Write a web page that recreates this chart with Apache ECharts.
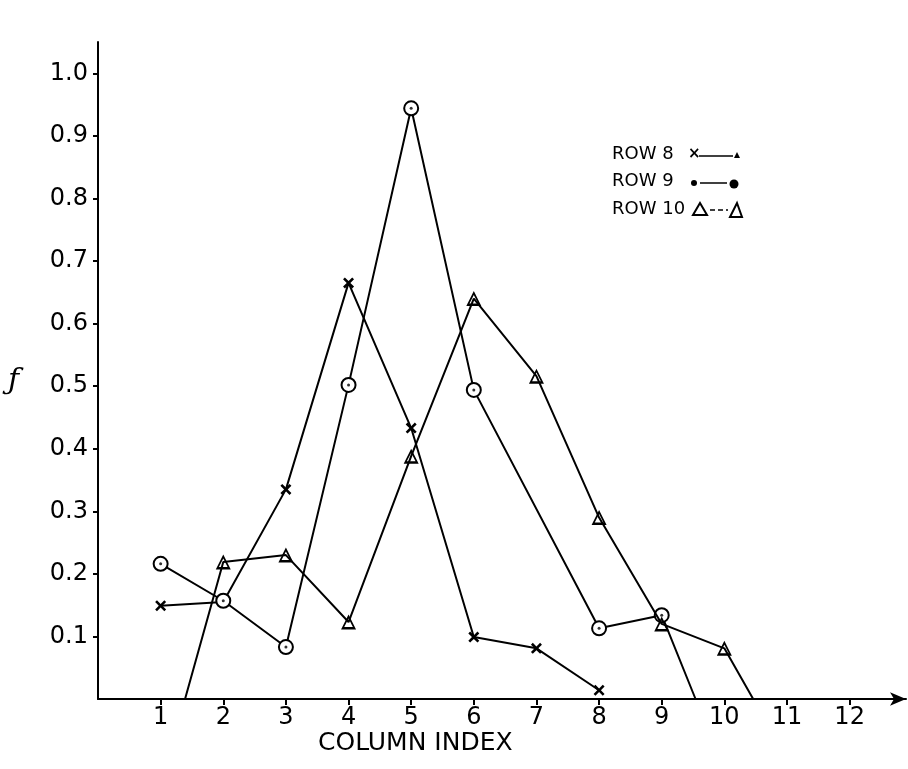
<!DOCTYPE html>
<html>
<head>
<meta charset="utf-8">
<script src="https://cdn.jsdelivr.net/npm/echarts@6/dist/echarts.min.js"></script>
<style>
html,body{margin:0;padding:0;background:#fff;}
#chart{width:908px;height:769px;}
</style>
</head>
<body>
<div id="chart"></div>
<script>
// ---- data ----
const xTicks = [1,2,3,4,5,6,7,8,9,10,11,12];
const yTicks = [0.1,0.2,0.3,0.4,0.5,0.6,0.7,0.8,0.9,1.0];

const row8X = [1, 2, 3, 4, 5, 6, 7, 8];
const row8Y = [0.149, 0.155, 0.335, 0.665, 0.433, 0.099, 0.081, 0.014];

const row9X = [1, 2, 3, 4, 5, 6, 8, 9, 9.54];
const row9Y = [0.216, 0.157, 0.083, 0.502, 0.944, 0.494, 0.113, 0.134, 0];

const row10X = [1.39, 2, 3, 4, 5, 6, 7, 8, 9, 10, 10.46];
const row10Y = [0, 0.219, 0.23, 0.123, 0.388, 0.64, 0.516, 0.29, 0.12, 0.081, 0];

const legendNames = ['ROW 8', 'ROW 9', 'ROW 10'];
const xAxisTitle = 'COLUMN INDEX';
const yAxisTitle = 'ƒ';

// ---- build ----
const pairs = (xs, ys) => xs.map((x, i) => [x, ys[i]]);
const X_SYM = 'path://M-6,-4 L-4,-6 L0,-2 L4,-6 L6,-4 L2,0 L6,4 L4,6 L0,2 L-4,6 L-6,4 L-2,0 Z';
const TRI_SYM = 'path://M0,-10 L9,7 L-9,7 Z M0,-5.5 L-5.2,4.2 L5.2,4.2 Z';

const chart = echarts.init(document.getElementById('chart'), null, {renderer: 'canvas'});
const font = 'DejaVu Sans';
const lineStyle = {color: '#000', width: 2};

const symNoZero = (sym) => (v) => (v[1] === 0 ? 'none' : sym);

chart.setOption({
  backgroundColor: '#fff',
  animation: false,
  grid: {left: 98, right: 2, top: 42, bottom: 70, containLabel: false},
  xAxis: {
    type: 'value', min: 0, max: 12.9, interval: 1,
    axisLine: {show: true, onZero: false, lineStyle: {color: '#000', width: 2},
      symbol: ['none', 'arrow'], symbolSize: [10, 16]},
    axisTick: {show: true, length: 6, lineStyle: {color: '#000', width: 2}, customValues: xTicks},
    axisLabel: {color: '#000', fontFamily: font, fontSize: 24, margin: 7, customValues: xTicks,
      formatter: v => String(v)},
    splitLine: {show: false}
  },
  yAxis: {
    type: 'value', min: 0, max: 1.05, interval: 0.1,
    axisLine: {show: true, onZero: false, lineStyle: {color: '#000', width: 2}},
    axisTick: {show: true, length: 5, lineStyle: {color: '#000', width: 2}, customValues: yTicks},
    axisLabel: {color: '#000', fontFamily: font, fontSize: 24, margin: 10, customValues: yTicks,
      formatter: v => v.toFixed(1)},
    splitLine: {show: false}
  },
  series: [
    {
      name: legendNames[0], type: 'line', data: pairs(row8X, row8Y),
      lineStyle: lineStyle, itemStyle: {color: '#000'},
      symbol: (v, p) => (p.dataIndex === 1 ? 'none' : X_SYM), symbolSize: 11,
      z: 3
    },
    {
      name: legendNames[1], type: 'line', data: pairs(row9X, row9Y),
      lineStyle: lineStyle,
      itemStyle: {color: '#fff', borderColor: '#000', borderWidth: 2},
      symbol: symNoZero('circle'), symbolSize: 14,
      z: 4
    },
    {
      name: legendNames[1] + ' dot', type: 'scatter', data: pairs(row9X, row9Y).filter(d => d[1] !== 0),
      itemStyle: {color: '#000'}, symbol: 'circle', symbolSize: 3, z: 6
    },
    {
      name: legendNames[2], type: 'line', data: pairs(row10X, row10Y),
      lineStyle: lineStyle, itemStyle: {color: '#000'},
      symbol: symNoZero(TRI_SYM), symbolSize: 15,
      z: 5
    }
  ],
  graphic: [
    {type: 'text', left: 318, top: 731, style: {text: xAxisTitle, font: '25px "DejaVu Sans"', fill: '#000'}},
    {type: 'text', left: 8, top: 366, style: {text: yAxisTitle, font: 'italic 30px "DejaVu Serif"', fill: '#000'}},
    // legend
    {type: 'text', left: 612, top: 145, style: {text: legendNames[0], font: '18px "DejaVu Sans"', fill: '#000'}},
    {type: 'text', left: 612, top: 172, style: {text: legendNames[1], font: '18px "DejaVu Sans"', fill: '#000'}},
    {type: 'text', left: 612, top: 200, style: {text: legendNames[2], font: '18px "DejaVu Sans"', fill: '#000'}},
    {type: 'text', left: 688, top: 147, style: {text: '×', font: 'bold 15px "DejaVu Sans"', fill: '#000'}},
    {type: 'line', shape: {x1: 699, y1: 156, x2: 733, y2: 156}, style: {stroke: '#000', lineWidth: 1.5}},
    {type: 'polygon', shape: {points: [[737,152],[740,158],[734,158]]}, style: {fill: '#000'}},
    {type: 'circle', shape: {cx: 694, cy: 183, r: 3}, style: {fill: '#000'}},
    {type: 'line', shape: {x1: 700, y1: 183, x2: 727, y2: 183}, style: {stroke: '#000', lineWidth: 1.5}},
    {type: 'circle', shape: {cx: 734, cy: 184, r: 4.5}, style: {fill: '#000'}},
    {type: 'polygon', shape: {points: [[700,203],[707,215],[693,215]]}, style: {fill: 'none', stroke: '#000', lineWidth: 2}},
    {type: 'line', shape: {x1: 710, y1: 210, x2: 728, y2: 210}, style: {stroke: '#000', lineWidth: 1.5, lineDash: [5, 3]}},
    {type: 'polygon', shape: {points: [[737,203],[742,217],[730,217]]}, style: {fill: 'none', stroke: '#000', lineWidth: 2}}
  ]
});
</script>
</body>
</html>
